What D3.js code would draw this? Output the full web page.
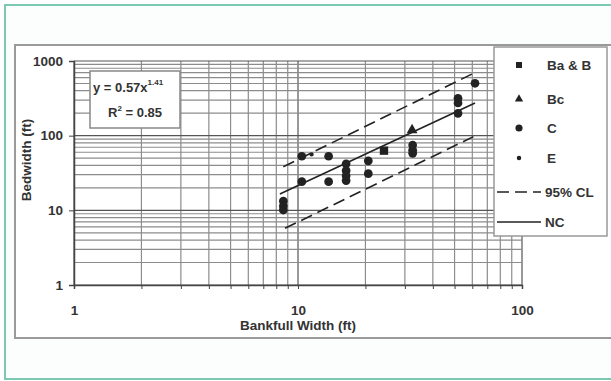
<!DOCTYPE html>
<html>
<head>
<meta charset="utf-8">
<script src="https://cdn.jsdelivr.net/npm/d3@7/dist/d3.min.js"></script>
<style>
  body { margin: 0; background: #fff; }
  svg { display: block; }
  text { font-family: "Liberation Sans", Arial, sans-serif; fill: #333; }
</style>
</head>
<body>
<svg id="chart" width="611" height="381"></svg>
<script>
// data
const seriesNames = ["Ba & B", "Bc", "C", "E"];
const baB = [[24.2, 63]];
const bc = [[32.3, 119]];
const cPts = [
  [8.6, 13.3], [8.6, 11.4], [8.6, 10.1],
  [10.4, 53], [10.4, 24.2],
  [13.7, 53], [13.7, 24.2],
  [16.4, 42], [16.4, 34], [16.4, 29], [16.4, 25],
  [20.6, 46], [20.6, 31],
  [32.5, 75], [32.5, 64], [32.5, 58],
  [51.8, 317], [51.8, 274], [51.8, 199],
  [61.7, 503]
];
const ePts = [[11.5, 56]];
const ncLine = [[8.3, 16.5], [61.7, 274]];
const clUpper = [[8.6, 38.4], [60.7, 684]];
const clLower = [[8.75, 5.74], [60.7, 97]];
const xTicks = [1, 10, 100];
const yTicks = [1, 10, 100, 1000];

const svg = d3.select("#chart");
const fs = 13.5;

// outer page border + chart frame
svg.append("rect").attr("x", 5).attr("y", 5).attr("width", 610).attr("height", 374)
  .attr("fill", "#fcfefe").attr("stroke", "#7cc9b3").attr("stroke-width", 2);
svg.append("rect").attr("x", 15).attr("y", 45).attr("width", 600).attr("height", 293)
  .attr("fill", "#fff").attr("stroke", "#9a9a9a").attr("stroke-width", 2);

const x = d3.scaleLog().domain([1, 100]).range([74, 522]);
const y = d3.scaleLog().domain([1, 1000]).range([285, 61]);

const minorX = d3.range(1, 10).concat(d3.range(10, 101, 10));
const minorY = d3.range(1, 10).concat(d3.range(10, 100, 10), d3.range(100, 1001, 100));

// grid
const grid = svg.append("g");
grid.selectAll(".gx").data(minorX).enter().append("line")
  .attr("x1", d => x(d)).attr("x2", d => x(d))
  .attr("y1", y(1000)).attr("y2", y(1))
  .attr("stroke", d => xTicks.includes(d) ? "#555" : "#8c8c8c").attr("stroke-width", 1.2);
grid.selectAll(".gy").data(minorY).enter().append("line")
  .attr("x1", x(1)).attr("x2", x(100))
  .attr("y1", d => y(d)).attr("y2", d => y(d))
  .attr("stroke", d => yTicks.includes(d) ? "#555" : "#8c8c8c").attr("stroke-width", 1.2);

// axes
const xAxis = svg.append("g").attr("transform", "translate(0," + y(1) + ")")
  .call(d3.axisBottom(x).tickValues(minorX).tickSize(4).tickPadding(16)
    .tickFormat(d => xTicks.includes(d) ? d : ""));
const yAxis = svg.append("g").attr("transform", "translate(" + x(1) + ",0)")
  .call(d3.axisLeft(y).tickValues(yTicks).tickSize(5).tickPadding(6).tickFormat(d => d));
[xAxis, yAxis].forEach(a => {
  a.select(".domain").attr("stroke", "#444").attr("stroke-width", 1.5);
  a.selectAll(".tick line").attr("stroke", "#444");
  a.selectAll("text").attr("font-size", fs).attr("font-weight", "bold").attr("fill", "#333");
});

svg.append("text").attr("x", 298).attr("y", 330).attr("text-anchor", "middle")
  .attr("font-size", fs).attr("font-weight", "bold").text("Bankfull Width (ft)");
svg.append("text").attr("transform", "translate(31,160) rotate(-90)").attr("text-anchor", "middle")
  .attr("font-size", fs).attr("font-weight", "bold").text("Bedwidth (ft)");

// regression + confidence lines
const line = d3.line().x(d => x(d[0])).y(d => y(d[1]));
svg.append("path").attr("d", line(ncLine)).attr("fill", "none").attr("stroke", "#222").attr("stroke-width", 1.6);
[clUpper, clLower].forEach(l => {
  svg.append("path").attr("d", line(l)).attr("fill", "none").attr("stroke", "#222")
    .attr("stroke-width", 1.6).attr("stroke-dasharray", "12,6");
});

// points
const sym = {
  "Ba & B": d3.symbol(d3.symbolSquare, 70),
  "Bc": d3.symbol(d3.symbolTriangle, 50),
  "C": d3.symbol(d3.symbolCircle, 60),
  "E": d3.symbol(d3.symbolCircle, 14)
};
const legSym = {
  "Ba & B": d3.symbol(d3.symbolSquare, 36),
  "Bc": d3.symbol(d3.symbolTriangle, 30),
  "C": d3.symbol(d3.symbolCircle, 40),
  "E": d3.symbol(d3.symbolCircle, 16)
};
const sets = [baB, bc, cPts, ePts];
sets.forEach((pts, i) => {
  svg.selectAll(null).data(pts).enter().append("path")
    .attr("d", sym[seriesNames[i]]())
    .attr("transform", d => "translate(" + x(d[0]) + "," + y(d[1]) + ")")
    .attr("fill", "#222");
});

// equation box
const eq = svg.append("g");
eq.append("rect").attr("x", 90).attr("y", 71).attr("width", 90).attr("height", 57)
  .attr("fill", "#fff").attr("stroke", "#888").attr("stroke-width", 1.5);
const t1 = eq.append("text").attr("x", 93).attr("y", 92).attr("font-size", 13).attr("font-weight", "bold");
t1.append("tspan").text("y = 0.57x");
t1.append("tspan").attr("dy", -7).attr("font-size", 8).text("1.41");
const t2 = eq.append("text").attr("x", 108).attr("y", 117).attr("font-size", 13).attr("font-weight", "bold");
t2.append("tspan").text("R");
t2.append("tspan").attr("dy", -6).attr("font-size", 8).text("2");
t2.append("tspan").attr("dy", 6).text(" = 0.85");

// legend
const lg = svg.append("g");
lg.append("rect").attr("x", 494).attr("y", 47).attr("width", 113).attr("height", 189)
  .attr("fill", "#fff").attr("stroke", "#999").attr("stroke-width", 1.5);
const legY = [65, 99, 128, 158];
seriesNames.forEach((n, i) => {
  lg.append("path").attr("d", legSym[n]()).attr("transform", "translate(519," + legY[i] + ")").attr("fill", "#222");
  lg.append("text").attr("x", 547).attr("y", legY[i] + 5).attr("font-size", fs).attr("font-weight", "bold").text(n);
});
lg.append("line").attr("x1", 497).attr("x2", 541).attr("y1", 192).attr("y2", 192)
  .attr("stroke", "#222").attr("stroke-width", 1.6).attr("stroke-dasharray", "12,6");
lg.append("text").attr("x", 545).attr("y", 197).attr("font-size", fs).attr("font-weight", "bold").text("95% CL");
lg.append("line").attr("x1", 497).attr("x2", 541).attr("y1", 222).attr("y2", 222)
  .attr("stroke", "#222").attr("stroke-width", 1.6);
lg.append("text").attr("x", 545).attr("y", 227).attr("font-size", fs).attr("font-weight", "bold").text("NC");
</script>
</body>
</html>
